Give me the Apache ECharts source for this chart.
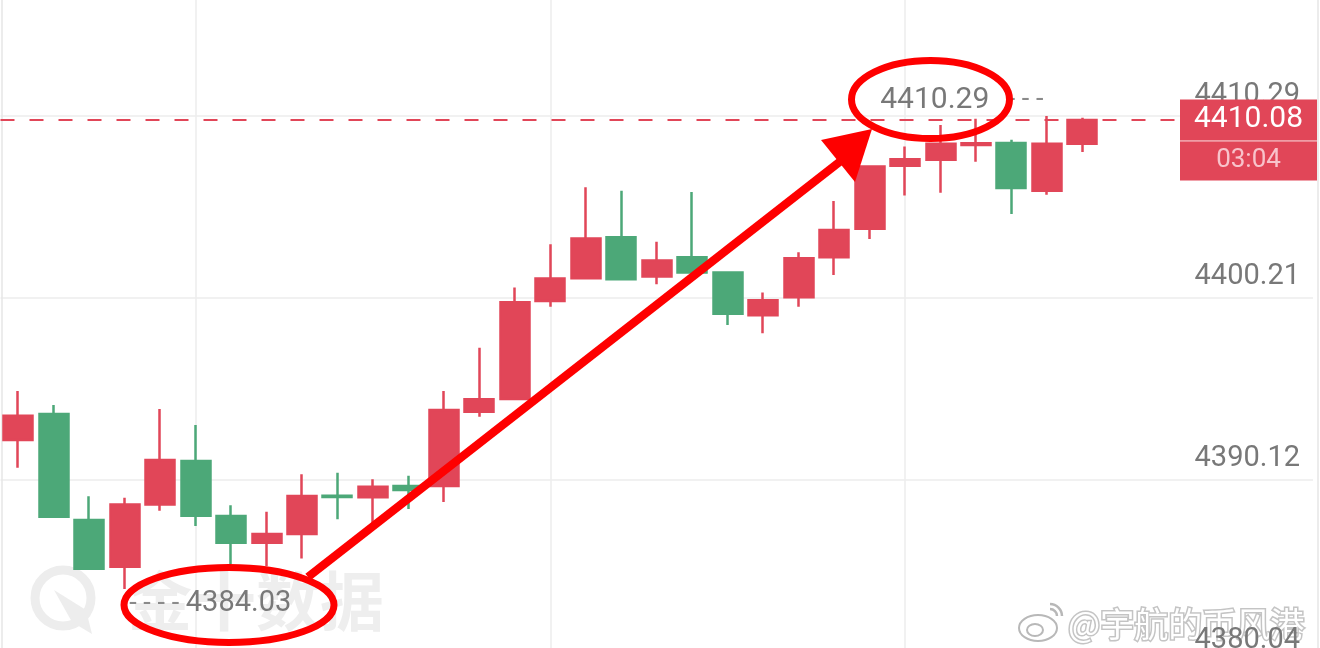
<!DOCTYPE html>
<html><head><meta charset="utf-8">
<script src="https://cdn.jsdelivr.net/npm/echarts@6/dist/echarts.min.js"></script>
<style>html,body{margin:0;padding:0;background:#fff;overflow:hidden}#c{width:1320px;height:648px}</style>
</head><body><div id="c"></div>
<script>
// ---- data ----
const categories = ['K01','K02','K03','K04','K05','K06','K07','K08','K09','K10',
  'K11','K12','K13','K14','K15','K16','K17','K18','K19','K20',
  'K21','K22','K23','K24','K25','K26','K27','K28','K29','K30',
  'K31','K32','K33','K34','K35','K36','K37'];
const opens  = [4392.30,4393.75,4387.86,4385.27,4388.73,4391.14,4388.08,4386.60,4387.08,4389.21,
  4389.12,4389.75,4389.75,4393.88,4394.58,4400.03,4401.29,4403.57,4401.38,4402.45,
  4401.60,4399.23,4400.23,4402.45,4404.03,4407.54,4407.86,4408.68,4408.80,4406.14,4408.75];
const closes = [4393.65,4388.04,4385.15,4388.73,4391.19,4388.10,4386.60,4387.08,4389.19,4389.14,
  4389.71,4389.53,4393.97,4394.57,4399.95,4401.27,4403.49,4401.23,4402.27,4401.60,
  4399.32,4400.07,4402.40,4403.97,4407.49,4407.90,4408.75,4408.78,4406.30,4408.75,4410.08];
const lows   = [4390.77,4387.99,4385.10,4384.03,4388.38,4387.53,4385.40,4385.30,4385.73,4387.90,
  4387.54,4388.47,4388.86,4393.60,4394.55,4399.71,4401.25,4401.20,4400.95,4401.58,
  4398.69,4398.23,4399.71,4401.47,4403.47,4405.88,4406.03,4407.75,4404.86,4405.92,4408.30];
const highs  = [4395.03,4394.25,4389.18,4389.10,4394.03,4393.14,4388.68,4388.32,4390.40,4390.49,
  4390.12,4390.32,4395.03,4397.43,4400.77,4403.18,4406.34,4406.14,4403.32,4406.08,
  4401.62,4400.49,4402.73,4405.58,4407.52,4408.60,4409.80,4410.14,4408.97,4410.29,4410.20];
const yTickMin = 4380.04;
const yTickStep = 10.0833;
const yTickCount = 4;
const countdown = '03:04';
const gridMarkIndex = [5, 15, 25];

// ---- style ----
const UP = '#e14658', DOWN = '#4ca878', AXIS_TXT = '#787878', GRID = '#ececec', ANNO = '#fe0000';

const kData = opens.map((o, i) => [o, closes[i], lows[i], highs[i]]);
const yMax = yTickMin + yTickStep * yTickCount;
const lastClose = closes[closes.length - 1];

const chart = echarts.init(document.getElementById('c'), null, {renderer: 'canvas'});
const yBase = {type: 'value', min: yTickMin, max: yMax, axisTick: {show: false}, axisLabel: {show: false}, splitLine: {show: false}};
chart.setOption({
  animation: false,
  backgroundColor: '#ffffff',
  textStyle: {fontFamily: 'Roboto'},
  grid: {left: 0.5, width: 1312.5, top: -65.5, height: 726.4, outerBoundsMode: 'none', containLabel: false},
  xAxis: {type: 'category', data: categories, boundaryGap: true,
    axisLine: {show: false}, axisTick: {show: false}, axisLabel: {show: false}, splitLine: {show: false}},
  yAxis: [
    {type: 'value', position: 'right', min: yTickMin, max: yMax, interval: yTickStep,
      axisLine: {show: false}, axisTick: {show: false},
      splitLine: {show: true, lineStyle: {color: GRID, width: 1.5}},
      axisLabel: {inside: true, margin: 13, color: AXIS_TXT, fontSize: 29, fontFamily: 'Roboto',
        verticalAlign: 'bottom', padding: [0, 0, 6, 0], formatter: v => v.toFixed(2)}},
    Object.assign({}, yBase, {position: 'right', offset: 5, axisLine: {show: true, lineStyle: {color: '#e6e6e6', width: 1.5}}}),
    Object.assign({}, yBase, {position: 'left', offset: -1.5, axisLine: {show: true, lineStyle: {color: '#e6e6e6', width: 1.5}}})
  ],
  series: [
    {type: 'line', data: [], silent: true, z: 0,
      markLine: {symbol: ['none', 'none'], silent: true, z: 0, animation: false,
        label: {show: false}, lineStyle: {color: GRID, type: 'solid', width: 1.5},
        data: gridMarkIndex.map(i => ({xAxis: categories[i]}))}},
    {type: 'candlestick', name: 'K', data: kData, barWidth: 29.5,
      itemStyle: {color: UP, color0: DOWN, borderColor: UP, borderColor0: DOWN, borderWidth: 2.5},
      markPoint: {symbol: 'circle', symbolSize: 1, itemStyle: {color: 'rgba(0,0,0,0)'}, animation: false,
        data: [
          {type: 'max', valueDim: 'highest',
            label: {show: true, position: 'left', distance: 3, offset: [0, -16],
              formatter: p => '{v|' + p.value.toFixed(2) + '}{d|  - - -}',
              rich: {v: {fontSize: 30, color: AXIS_TXT, fontFamily: 'Roboto'},
                     d: {fontSize: 27, color: '#8a8a8a', fontFamily: 'Roboto', padding: [0, 0, 0, 5]}}}},
          {type: 'min', valueDim: 'lowest',
            label: {show: true, position: 'right', distance: 4, offset: [0, 15],
              formatter: p => '{d|- - - - }{v|' + p.value.toFixed(2) + '}',
              rich: {v: {fontSize: 29, color: AXIS_TXT, fontFamily: 'Roboto'},
                     d: {fontSize: 27, color: '#8a8a8a', fontFamily: 'Roboto'}}}}
        ]},
      markLine: {symbol: ['none', 'none'], silent: true, animation: false,
        data: [{yAxis: lastClose, lineStyle: {color: UP, type: [14, 15], width: 2},
          label: {show: true, position: 'insideEnd', distance: -4,
            formatter: p => '{sp| }\n{v|' + Number(p.value).toFixed(2) + '}\n{ln| }\n{t|' + countdown + '}',
            rich: {
              sp: {width: 137, height: 40, lineHeight: 40, fontSize: 10},
              v: {width: 137, height: 41, lineHeight: 41, align: 'center', backgroundColor: UP, color: '#ffffff', fontSize: 30, fontFamily: 'Roboto'},
              ln: {width: 137, height: 1, lineHeight: 1, fontSize: 1, backgroundColor: '#ee97a2'},
              t: {width: 137, height: 39, lineHeight: 39, align: 'center', backgroundColor: UP, color: '#f8c3cb', fontSize: 26, fontFamily: 'Roboto'}
            }}}]}}
  ],
  graphic: [
    // 金十数据 watermark
    {type: 'circle', silent: true, z: -1, shape: {cx: 63, cy: 598, r: 28}, style: {fill: 'none', stroke: '#ededed', lineWidth: 9}},
    {type: 'polygon', silent: true, z: -1, shape: {points: [[54, 590], [86, 610], [92, 634], [72, 622]]}, style: {fill: '#ededed'}},
    {type: 'text', silent: true, z: -1, x: 128, y: 601, style: {text: '金十数据', fill: '#eeeeee', font: 'bold 64px "Noto Sans CJK SC"', align: 'left', verticalAlign: 'middle'}},
    // weibo watermark
    {type: 'ellipse', silent: true, z: -1, shape: {cx: 1038, cy: 628, rx: 19, ry: 13}, style: {fill: '#ffffff', stroke: '#b8b8b8', lineWidth: 2}},
    {type: 'ellipse', silent: true, z: -1, shape: {cx: 1035, cy: 630, rx: 8, ry: 6}, style: {fill: '#ffffff', stroke: '#b8b8b8', lineWidth: 2}},
    {type: 'arc', silent: true, z: -1, shape: {cx: 1050, cy: 616, r: 7, startAngle: -Math.PI / 2, endAngle: 0}, style: {stroke: '#b8b8b8', lineWidth: 2.5}},
    {type: 'arc', silent: true, z: -1, shape: {cx: 1050, cy: 616, r: 12, startAngle: -Math.PI / 2, endAngle: 0}, style: {stroke: '#b8b8b8', lineWidth: 2.5}},
    {type: 'text', silent: true, z: -1, x: 1068, y: 624, style: {text: '@宇航的币风港', fill: '#ffffff', stroke: '#c4c4c4', lineWidth: 3, strokeFirst: true, font: '34px "Noto Sans CJK SC"', align: 'left', verticalAlign: 'middle'}},
    // red annotations
    {type: 'ellipse', silent: true, z: 100, shape: {cx: 930.5, cy: 99.5, rx: 79, ry: 39}, style: {fill: 'none', stroke: ANNO, lineWidth: 7}},
    {type: 'ellipse', silent: true, z: 100, shape: {cx: 229, cy: 605, rx: 105, ry: 37.5}, style: {fill: 'none', stroke: ANNO, lineWidth: 7}},
    {type: 'line', silent: true, z: 100, shape: {x1: 308, y1: 577, x2: 842, y2: 160}, style: {stroke: ANNO, lineWidth: 8.5}},
    {type: 'polygon', silent: true, z: 100, shape: {points: [[872, 129], [821, 140], [855, 182]]}, style: {fill: ANNO}}
  ]
});
</script>
</body></html>
